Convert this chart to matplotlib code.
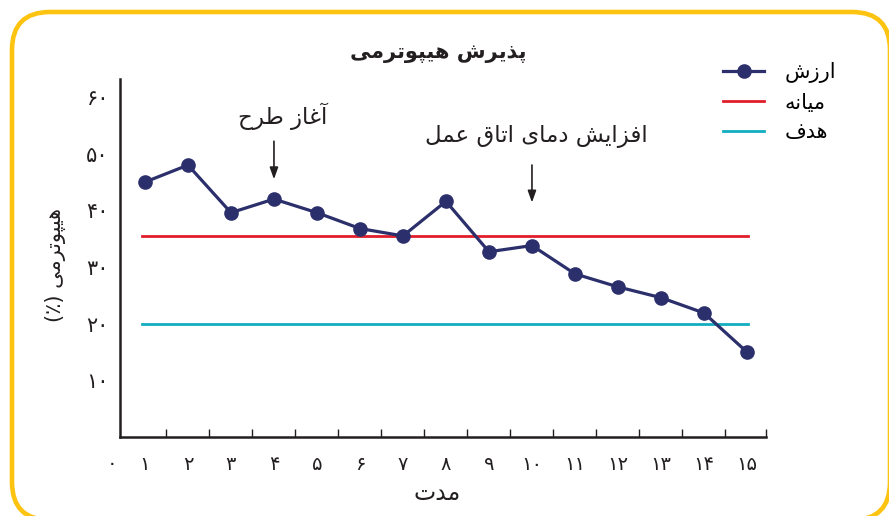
import matplotlib
matplotlib.use('Agg')
import matplotlib.pyplot as plt
from matplotlib.patches import FancyBboxPatch
from matplotlib.transforms import blended_transform_factory
import numpy as np

plt.rcParams['font.family'] = ['DejaVu Sans']

# داده‌ها
periods = list(range(1, 16))
values = [45, 48, 39.6, 42, 39.6, 36.8, 35.5, 41.6, 32.7, 33.8, 28.8, 26.5, 24.6, 21.9, 15]
median_value = 35.5
target_value = 20
y_ticks = [10, 20, 30, 40, 50, 60]

title = 'پذیرش هیپوترمی'
x_label = 'مدت'
y_label = 'هیپوترمی (٪)'
series_labels = ['ارزش', 'میانه', 'هدف']
notes = ['آغاز طرح', 'افزایش دمای اتاق عمل']
note_x = [4, 10]
note_tail = [52.7, 48.5]
note_head = [45, 40.9]

# شکل‌دهی حروف فارسی (matplotlib اتصال حروف را انجام نمی‌دهد)
FORMS = {
    'ا': (0xFE8D, 0xFE8E, None, None), 'آ': (0xFE81, 0xFE82, None, None),
    'ب': (0xFE8F, 0xFE90, 0xFE91, 0xFE92), 'پ': (0xFB56, 0xFB57, 0xFB58, 0xFB59),
    'ت': (0xFE95, 0xFE96, 0xFE97, 0xFE98), 'ح': (0xFEA1, 0xFEA2, 0xFEA3, 0xFEA4),
    'د': (0xFEA9, 0xFEAA, None, None), 'ذ': (0xFEAB, 0xFEAC, None, None),
    'ر': (0xFEAD, 0xFEAE, None, None), 'ز': (0xFEAF, 0xFEB0, None, None),
    'ش': (0xFEB5, 0xFEB6, 0xFEB7, 0xFEB8), 'ط': (0xFEC1, 0xFEC2, 0xFEC3, 0xFEC4),
    'ع': (0xFEC9, 0xFECA, 0xFECB, 0xFECC), 'غ': (0xFECD, 0xFECE, 0xFECF, 0xFED0),
    'ف': (0xFED1, 0xFED2, 0xFED3, 0xFED4), 'ق': (0xFED5, 0xFED6, 0xFED7, 0xFED8),
    'ل': (0xFEDD, 0xFEDE, 0xFEDF, 0xFEE0), 'م': (0xFEE1, 0xFEE2, 0xFEE3, 0xFEE4),
    'ن': (0xFEE5, 0xFEE6, 0xFEE7, 0xFEE8), 'ه': (0xFEE9, 0xFEEA, 0xFEEB, 0xFEEC),
    'و': (0xFEED, 0xFEEE, None, None), 'ی': (0xFBFC, 0xFBFD, 0xFBFE, 0xFBFF),
}
MIRROR = {'(': ')', ')': '('}


def fa(text):
    out = []
    for i, c in enumerate(text):
        if c not in FORMS:
            out.append(MIRROR.get(c, c))
            continue
        prev = text[i - 1] if i > 0 else None
        nxt = text[i + 1] if i + 1 < len(text) else None
        join_prev = prev in FORMS and FORMS[prev][2] is not None
        join_next = nxt in FORMS and FORMS[c][2] is not None
        iso, fin, ini, med = FORMS[c]
        if join_prev and join_next:
            code = med
        elif join_prev:
            code = fin
        elif join_next:
            code = ini
        else:
            code = iso
        out.append(chr(code))
    return ''.join(reversed(out))


def fa_num(n):
    return str(n).translate(str.maketrans('0123456789', '۰۱۲۳۴۵۶۷۸۹'))


navy = '#2B2F6B'
red = '#E01E2B'
cyan = '#12ADC1'
yellow = '#FDC311'
ink = '#231F20'

fig = plt.figure(figsize=(8.89, 5.16), dpi=100)
ax = fig.add_axes([0.135, 0.153, 0.727, 0.694])

line_val, = ax.plot(periods, values, color=navy, lw=2.3, marker='o', ms=9.5,
                    label=fa(series_labels[0]), zorder=4)
line_med, = ax.plot([0.93, 15.02], [median_value] * 2, color=red, lw=2,
                    label=fa(series_labels[1]))
line_tar, = ax.plot([0.93, 15.02], [target_value] * 2, color=cyan, lw=2,
                    label=fa(series_labels[2]))

ax.set_xlim(0.42, 15.45)
ax.set_ylim(0, 63.2)

for s in ['top', 'right']:
    ax.spines[s].set_visible(False)
for s in ['left', 'bottom']:
    ax.spines[s].set_linewidth(1.8)
    ax.spines[s].set_color(ink)

ax.set_xticks(periods)
ax.set_xticklabels([fa_num(p) for p in periods], fontsize=14, color=ink)
ax.set_xticks(list(np.arange(1.5, 15, 1)) + [15.45], minor=True)
ax.tick_params(axis='x', which='major', length=0, pad=13)
ax.tick_params(axis='x', which='minor', direction='in', length=6, width=1, color=ink)

ax.set_yticks(y_ticks)
ax.set_yticklabels([fa_num(v) for v in y_ticks], fontsize=15, color=ink)
ax.tick_params(axis='y', length=0, pad=8)

# صفر در گوشه محورها
trans = blended_transform_factory(ax.transData, ax.transAxes)
ax.text(0.23, -0.073, fa_num(0), transform=trans, ha='center', va='center',
        fontsize=14, color=ink)

ax.text(0.492, 1.073, fa(title), transform=ax.transAxes, ha='center', va='center',
        fontsize=15, fontweight='bold', color=ink)
ax.text(0.49, -0.156, fa(x_label), transform=ax.transAxes, ha='center', va='center',
        fontsize=17, color=ink)
ax.text(-0.1, 0.48, fa(y_label), transform=ax.transAxes, ha='center', va='center',
        rotation=90, fontsize=15, color=ink)

# پیکان‌های توضیحی
for label, x, y0, y1, dx, ty in zip(notes, note_x, note_tail, note_head, [0.2, 0.1], [56.7, 53.0]):
    ax.annotate('', xy=(x, y1), xytext=(x, y0),
                arrowprops=dict(arrowstyle='-|>,head_length=0.7,head_width=0.25',
                                color=ink, lw=1.2))
    ax.text(x + dx, ty, fa(label), ha='center', va='center', fontsize=16.5, color=ink)

ax.legend(handles=[line_val, line_med, line_tar], loc='upper left',
          bbox_to_anchor=(715 / 889, 1 - 54 / 516), bbox_transform=fig.transFigure,
          frameon=False, fontsize=15, handlelength=1.95, handletextpad=1.0,
          labelspacing=0.45, numpoints=1, borderaxespad=0)

# قاب زرد دور نمودار
frame = FancyBboxPatch((0.12, -0.04), 8.78, 5.08,
                       boxstyle='round,pad=0,rounding_size=0.38',
                       transform=fig.dpi_scale_trans, facecolor='none',
                       edgecolor=yellow, lw=3.3, clip_on=False)
fig.add_artist(frame)

fig.savefig('out.png', dpi=100)
